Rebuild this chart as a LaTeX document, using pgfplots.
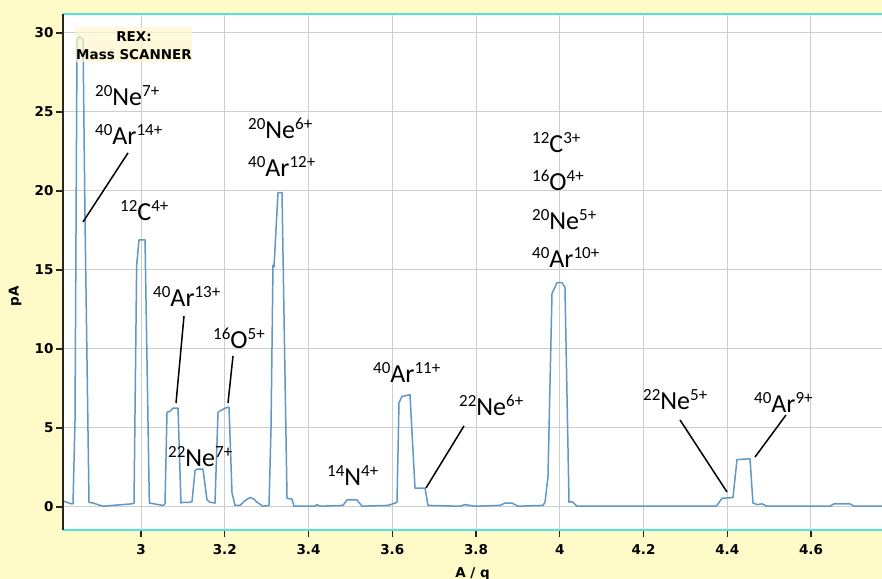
\documentclass[border=0pt]{standalone}
\usepackage{pgfplots}
\pgfplotsset{compat=1.18}
\usepackage{fontspec}
\setmainfont{Carlito}
\newfontfamily\dejavu{DejaVu Sans}
\definecolor{bgy}{RGB}{255,251,200}
\definecolor{boxy}{RGB}{255,247,205}
\definecolor{spec}{RGB}{95,152,198}
\definecolor{cyanline}{RGB}{80,228,222}
\definecolor{gridg}{RGB}{205,205,205}
\newcommand{\supx}[1]{{\fontsize{17bp}{17bp}\selectfont\raisebox{9bp}{#1}}}
\newcommand{\iso}[3]{\supx{#1}#2\supx{#3}}
\newcommand{\tkfont}{\fontsize{13.5bp}{15bp}\dejavu\bfseries}
\begin{document}
\begin{tikzpicture}
\useasboundingbox (-63bp,-49bp) rectangle (819bp,530bp);
\fill[bgy] (-63bp,-49bp) rectangle (819bp,530bp);
\begin{axis}[
  scale only axis, width=819bp, height=516bp,
  xmin=2.8137, xmax=4.7696, ymin=-1.456, ymax=31.2,
  clip=false,
  axis background/.style={fill=white},
  axis line style={draw=none},
  xtick={3,3.2,3.4,3.6,3.8,4,4.2,4.4,4.6},
  xticklabels={3,3.2,3.4,3.6,3.8,4,4.2,4.4,4.6},
  ytick={0,5,10,15,20,25,30},
  grid=major, major grid style={gridg, line width=1bp},
  tick align=outside, major tick length=7bp, tick pos=left,
  tick style={black!85, line width=1.2bp},
  ticklabel style={font=\tkfont},
  xticklabel style={yshift=-4bp},
  yticklabel style={xshift=1bp},
  /pgf/number format/assume math mode=true,
  xlabel={A / q},
  xlabel style={font=\tkfont, at={(axis description cs:0.5,0)}, anchor=base, yshift=-47bp},
  ylabel={pA},
  ylabel style={font=\tkfont, at={(axis description cs:0,0.4535)}, anchor=center, yshift=48bp},
]
\addplot[spec, line width=1.5bp, line join=round] coordinates {
(2.8137,0.38) (2.8352,0.19) (2.8376,0.2) (2.8424,5.5) (2.8472,29.55) (2.8520,29.77) (2.8615,29.6) (2.8663,18.2) (2.8758,0.3) (2.8854,0.25) (2.9093,0.05) (2.9785,0.2)
(2.9833,0.25) (2.9896,15.3) (2.9952,16.9) (3.0096,16.9) (3.0199,0.25) (3.0525,0.1) (3.0573,0.2) (3.0621,6.0) (3.0693,6.05) (3.0764,6.25) (3.0884,6.25) (3.0955,0.25) (3.1003,0.3) (3.117,0.3) (3.1218,0.35) (3.129,2.3) (3.1337,2.4) (3.148,2.4) (3.1576,0.45) (3.1648,0.3) (3.1767,0.25) (3.1839,6.0) (3.1934,6.15) (3.2054,6.3) (3.2102,6.3) (3.2173,0.9) (3.2245,0.1) (3.2364,0.1) (3.2484,0.4) (3.2603,0.6) (3.27,0.5) (3.277,0.3) (3.2913,0.05) (3.3057,0.1) (3.3105,5) (3.3152,15.3) (3.3176,15.2) (3.3272,19.9) (3.3367,19.9) (3.3487,0.55) (3.3606,0.5) (3.3654,0.05) (3.4155,0.05) (3.42,0.15) (3.4275,0.05) (3.4824,0.1) (3.4919,0.45) (3.5158,0.45) (3.5278,0.05) (3.5899,0.1) (3.6066,0.25) (3.6113,0.3) (3.6161,6.6) (3.6233,7.0) (3.6424,7.1) (3.6543,1.2) (3.6782,1.2) (3.6854,0.1) (3.7618,0.05) (3.7737,0.15) (3.7976,0.05) (3.8573,0.1) (3.8693,0.25) (3.886,0.25) (3.9003,0.05) (3.96,0.1) (3.9648,0.3) (3.9719,1.9) (3.9815,13.5) (3.9934,14.2) (4.0054,14.2) (4.0125,13.9) (4.0221,0.3) (4.0293,0.35) (4.0412,0.05) (4.3707,0.05) (4.3755,0.1) (4.3875,0.55) (4.4137,0.6) (4.4233,3.0) (4.4543,3.05) (4.4615,0.25) (4.471,0.15) (4.483,0.2) (4.495,0.05) (4.6454,0.05) (4.655,0.2) (4.6931,0.2) (4.7027,0.05) (4.7696,0.05)
};
% axis frame lines
\draw[cyanline, line width=2bp] (rel axis cs:0,1) -- (rel axis cs:1,1);
\draw[cyanline, line width=2bp] (rel axis cs:0,0) -- (rel axis cs:1,0);
\draw[black!85, line width=2bp] (rel axis cs:0,0) -- (rel axis cs:0,1);
% REX box
\fill[boxy, fill opacity=0.7] (axis cs:2.8424,28.16) rectangle (axis cs:3.1218,30.40);
\node[font=\tkfont, anchor=base, inner sep=0] at (axis cs:2.9833,29.43) {REX:};
\node[font=\tkfont, anchor=base, inner sep=0] at (axis cs:2.9833,28.29) {Mass SCANNER};
% labels
\node[anchor=base west, inner sep=0, font=\fontsize{26bp}{28bp}\selectfont] at (axis cs:2.8901,25.38) {\iso{20}{Ne}{7+}};
\node[anchor=base west, inner sep=0, font=\fontsize{26bp}{28bp}\selectfont] at (axis cs:2.8901,22.91) {\iso{40}{Ar}{14+}};
\node[anchor=base west, inner sep=0, font=\fontsize{26bp}{28bp}\selectfont] at (axis cs:2.9499,18.16) {\iso{12}{C}{4+}};
\node[anchor=base west, inner sep=0, font=\fontsize{26bp}{28bp}\selectfont] at (axis cs:3.0287,12.66) {\iso{40}{Ar}{13+}};
\node[anchor=base west, inner sep=0, font=\fontsize{26bp}{28bp}\selectfont] at (axis cs:3.1719,10.0) {\iso{16}{O}{5+}};
\node[anchor=base west, inner sep=0, font=\fontsize{26bp}{28bp}\selectfont] at (axis cs:3.0645,2.59) {\iso{22}{Ne}{7+}};
\node[anchor=base west, inner sep=0, font=\fontsize{26bp}{28bp}\selectfont] at (axis cs:3.2555,23.35) {\iso{20}{Ne}{6+}};
\node[anchor=base west, inner sep=0, font=\fontsize{26bp}{28bp}\selectfont] at (axis cs:3.2555,20.89) {\iso{40}{Ar}{12+}};
\node[anchor=base west, inner sep=0, font=\fontsize{26bp}{28bp}\selectfont] at (axis cs:3.4442,1.39) {\iso{14}{N}{4+}};
\node[anchor=base west, inner sep=0, font=\fontsize{26bp}{28bp}\selectfont] at (axis cs:3.554,7.85) {\iso{40}{Ar}{11+}};
\node[anchor=base west, inner sep=0, font=\fontsize{26bp}{28bp}\selectfont] at (axis cs:3.7594,5.82) {\iso{22}{Ne}{6+}};
\node[anchor=base west, inner sep=0, font=\fontsize{26bp}{28bp}\selectfont] at (axis cs:3.9337,22.41) {\iso{12}{C}{3+}};
\node[anchor=base west, inner sep=0, font=\fontsize{26bp}{28bp}\selectfont] at (axis cs:3.9337,20.0) {\iso{16}{O}{4+}};
\node[anchor=base west, inner sep=0, font=\fontsize{26bp}{28bp}\selectfont] at (axis cs:3.9337,17.53) {\iso{20}{Ne}{5+}};
\node[anchor=base west, inner sep=0, font=\fontsize{26bp}{28bp}\selectfont] at (axis cs:3.9337,15.13) {\iso{40}{Ar}{10+}};
\node[anchor=base west, inner sep=0, font=\fontsize{26bp}{28bp}\selectfont] at (axis cs:4.1988,6.14) {\iso{22}{Ne}{5+}};
\node[anchor=base west, inner sep=0, font=\fontsize{26bp}{28bp}\selectfont] at (axis cs:4.4639,6.01) {\iso{40}{Ar}{9+}};
% leader lines
\draw[black, line width=1.5bp] (axis cs:2.969,22.41) -- (axis cs:2.8615,18.04);
\draw[black, line width=1.5bp] (axis cs:3.1027,12.09) -- (axis cs:3.0836,6.58);
\draw[black, line width=1.5bp] (axis cs:3.2197,9.56) -- (axis cs:3.2078,6.58);
\draw[black, line width=1.5bp] (axis cs:3.7713,5.13) -- (axis cs:3.6806,1.20);
\draw[black, line width=1.5bp] (axis cs:4.2872,5.51) -- (axis cs:4.3994,0.95);
\draw[black, line width=1.5bp] (axis cs:4.5403,5.82) -- (axis cs:4.4663,3.16);
\end{axis}
\end{tikzpicture}
\end{document}
